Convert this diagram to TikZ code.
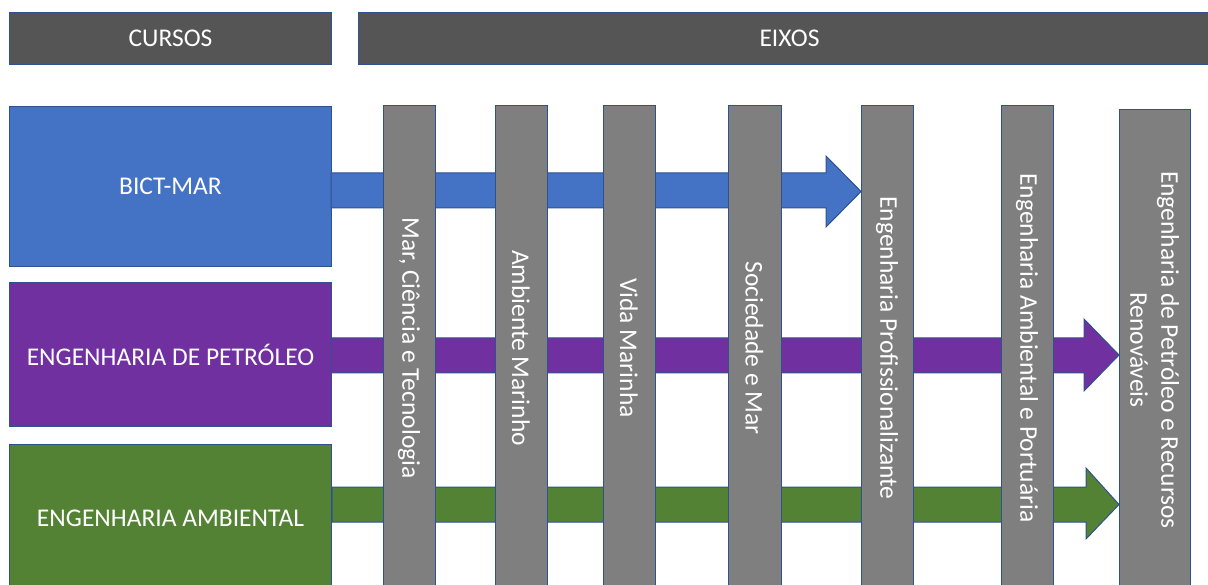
\documentclass[tikz,border=0pt]{standalone}
\usepackage{fontspec}
\setmainfont{Carlito}
\definecolor{hdrgrey}{HTML}{555555}
\definecolor{barblue}{HTML}{4472C4}
\definecolor{barpurple}{HTML}{7030A0}
\definecolor{bargreen}{HTML}{548235}
\definecolor{bargrey}{HTML}{7F7F7F}
\definecolor{edge}{HTML}{2F528F}
\begin{document}
\begin{tikzpicture}[x=1pt,y=-1pt,
  shp/.style={draw=edge, line width=1pt, inner sep=0pt, text=white, font=\fontsize{25.5}{31}\selectfont},
  hdr/.style={shp, fill=hdrgrey, anchor=north west},
  curso/.style={shp, anchor=north west, minimum width=322, align=center},
  eixo/.style={shp, fill=bargrey, rotate=-90, align=center},
  blockarrow/.style={draw=edge, line width=1pt}]
\useasboundingbox (0,0) rectangle (1208,585);
\clip (0,0) rectangle (1208,585);
% headers
\node[hdr, minimum width=322, minimum height=52] (cursos) at (9,12) {CURSOS};
\node[hdr, minimum width=862, minimum height=52] (eixos) at (358,12) {EIXOS};
% courses
\node[curso, fill=barblue, minimum height=160] (bict) at (9,106) {BICT-MAR};
\node[curso, fill=barpurple, minimum height=144] (petro) at (9,282) {ENGENHARIA DE PETRÓLEO};
\node[curso, fill=bargreen, minimum height=148] (amb) at (9,444) {ENGENHARIA AMBIENTAL};
% arrows
\draw[blockarrow, fill=barblue] (331,173) -- (826,173) -- (826,156) -- (861,191.5) -- (826,227) -- (826,208) -- (331,208) -- cycle;
\draw[blockarrow, fill=barpurple] (331,338) -- (1084,338) -- (1084,319) -- (1119,355) -- (1084,391) -- (1084,373) -- (331,373) -- cycle;
\draw[blockarrow, fill=bargreen] (332,487) -- (1086,487) -- (1086,468) -- (1119,504.5) -- (1086,539) -- (1086,522) -- (332,522) -- cycle;
% axes
\node[eixo, minimum width=484, minimum height=52] (e1) at (409,348) {Mar, Ciência e Tecnologia};
\node[eixo, minimum width=484, minimum height=52] (e2) at (521,348) {Ambiente Marinho};
\node[eixo, minimum width=484, minimum height=52] (e3) at (629,348) {Vida Marinha};
\node[eixo, minimum width=484, minimum height=53] (e4) at (754.5,348) {Sociedade e Mar};
\node[eixo, minimum width=484, minimum height=52] (e5) at (887,348) {Engenharia Profissionalizante};
\node[eixo, minimum width=484, minimum height=52] (e6) at (1027,348) {Engenharia Ambiental e Portuária};
\node[eixo, minimum width=480, minimum height=71] (e7) at (1154.5,350) {Engenharia de Petróleo e Recursos\\Renováveis};
\end{tikzpicture}
\end{document}
